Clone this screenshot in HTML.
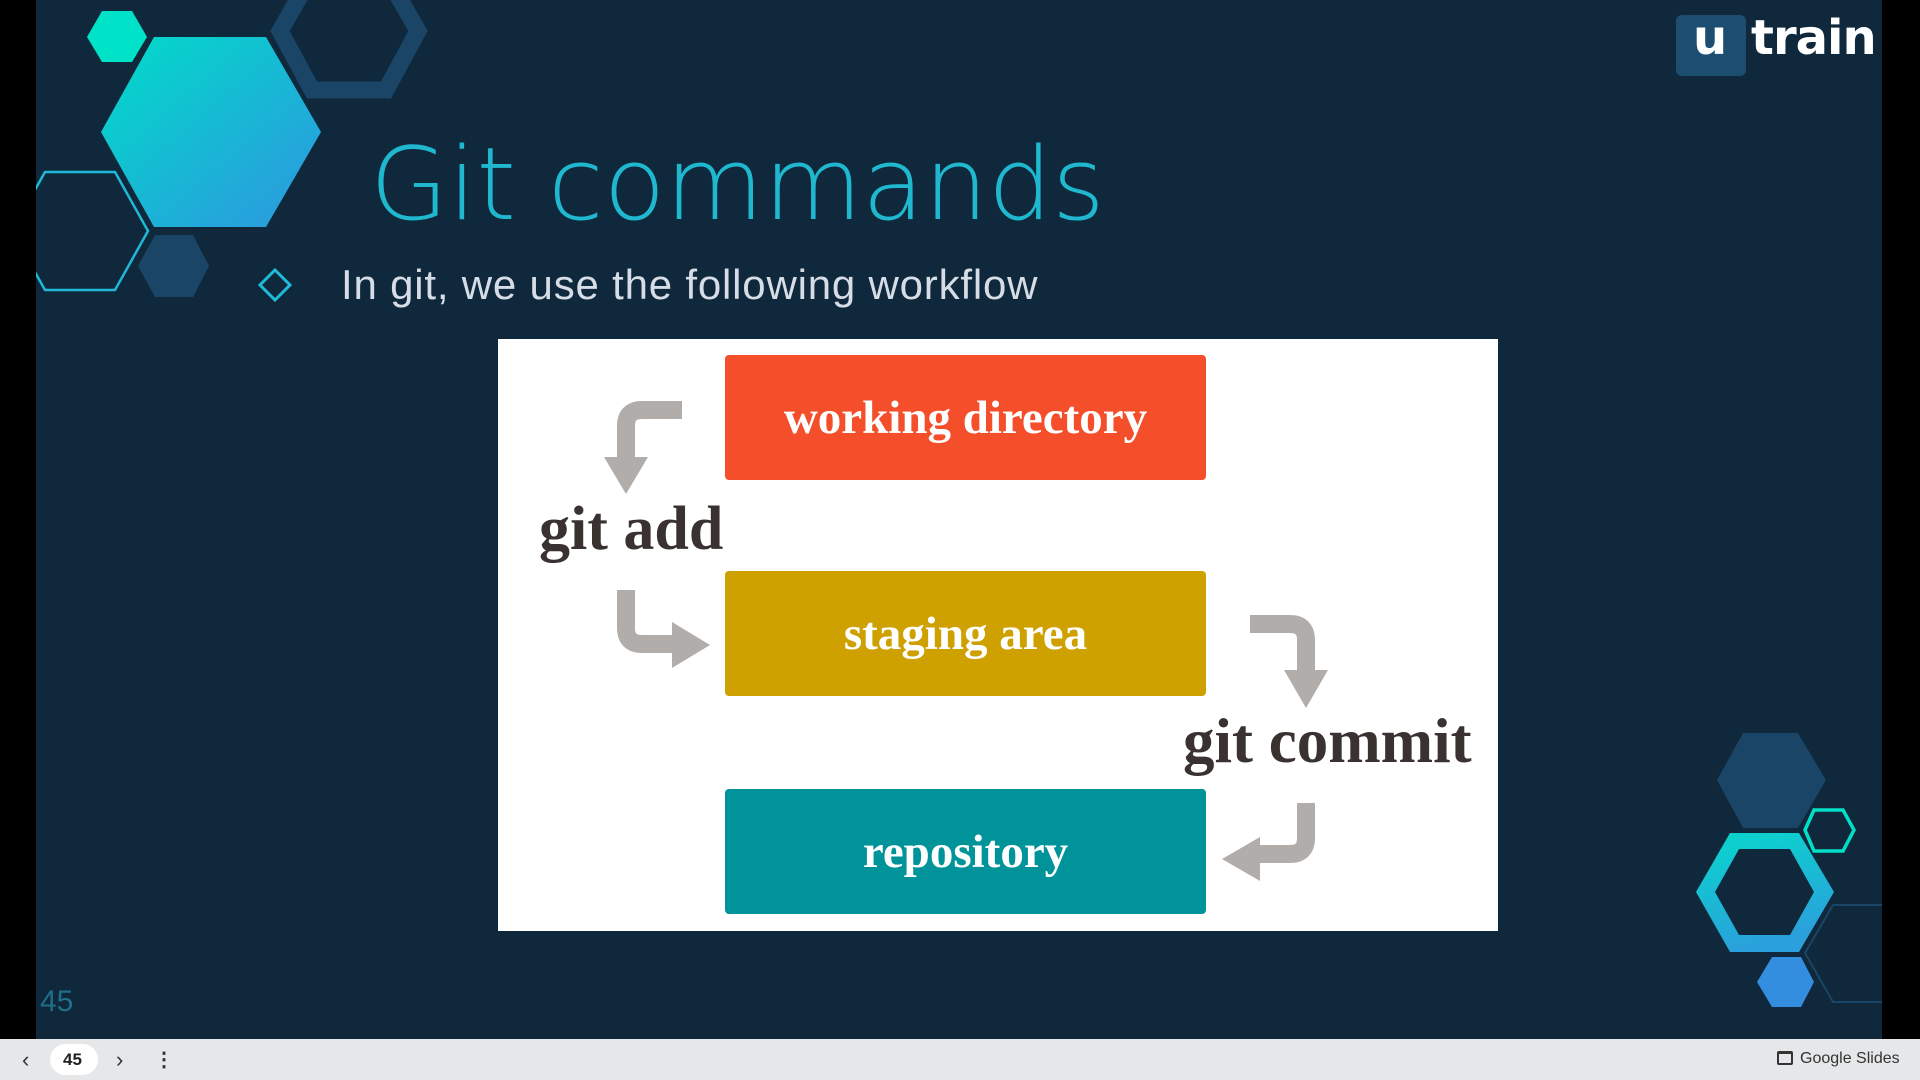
<!DOCTYPE html>
<html><head><meta charset="utf-8"><style>
html,body{margin:0;padding:0;width:1920px;height:1080px;overflow:hidden;background:#000}
.slide{position:absolute;left:36px;top:0;width:1846px;height:1039px;background:#0f283b}
.bar{position:absolute;left:0;top:1039px;width:1920px;height:41px;background:#e6e7e9;font-family:"Liberation Sans",sans-serif}
.t{position:absolute;white-space:nowrap}
.box{position:absolute;left:725px;width:481px;height:125px;border-radius:4px;color:#fff;font-family:"Liberation Serif",serif;font-weight:bold;font-size:47px;display:flex;align-items:center;justify-content:center}
</style></head><body>
<div class="slide"></div>
<svg width="1920" height="1080" style="position:absolute;left:0;top:0">
<defs>
<linearGradient id="g1" x1="0" y1="0" x2="1" y2="1"><stop offset="0" stop-color="#00dcc8"/><stop offset="1" stop-color="#2e96e0"/></linearGradient>
<linearGradient id="g2" x1="0" y1="0" x2="0.3" y2="1"><stop offset="0" stop-color="#08d8cc"/><stop offset="1" stop-color="#2aa0dc"/></linearGradient>
<clipPath id="cp"><rect x="36" y="0" width="1846" height="1039"/></clipPath>
</defs>
<g clip-path="url(#cp)">
<polygon points="102,11 132,11 147,37 132,62 102,62 87,37" fill="#00e2c8"/>
<polygon points="154,37 266,37 321,132 266,227 154,227 101,132" fill="url(#g1)"/>
<polygon points="312,-25 386,-25 418,31 386,90 312,90 280,31" fill="none" stroke="#1a4566" stroke-width="17"/>
<polygon points="45,172 115,172 148,231 115,290 45,290 12,231" fill="none" stroke="#1fb8d6" stroke-width="2.5"/>
<polygon points="155,235 193,235 209,266 193,297 155,297 138,266" fill="#1a4566"/>
<polygon points="1743,733 1798,733 1826,780 1798,828 1743,828 1717,780" fill="#1a4566"/>
<polygon points="1814,810 1843,810 1854,830 1843,851 1814,851 1805,830" fill="none" stroke="#00e0c8" stroke-width="3.5"/>
<path d="M1730,833 L1799,833 L1834,892 L1799,952 L1730,952 L1696,892 Z M1739,849 L1790,849 L1814,892 L1790,935 L1739,935 L1715,892 Z" fill="url(#g2)" fill-rule="evenodd"/>
<polygon points="1772,957 1801,957 1814,982 1801,1007 1772,1007 1757,982" fill="#348ee0"/>
<polygon points="1833,905 1900,905 1930,953 1900,1002 1833,1002 1805,953" fill="none" stroke="#1a4566" stroke-width="2"/>
</g>
<polygon points="275,270 290,285 275,300 260,285" fill="none" stroke="#1fbcd8" stroke-width="3"/>
<rect x="498" y="339" width="1000" height="592" fill="#fff"/>
<g fill="none" stroke="#b0adaa" stroke-width="18">
<path d="M682,410 L642,410 Q626,410 626,426 L626,460"/>
<path d="M626,590 L626,628 Q626,644 642,644 L675,644"/>
<path d="M1250,624 L1290,624 Q1306,624 1306,640 L1306,672"/>
<path d="M1306,803 L1306,838 Q1306,854 1290,854 L1258,854"/>
</g>
<g fill="#b0adaa">
<polygon points="604,457 648,457 626,494"/>
<polygon points="672,622 672,668 710,645"/>
<polygon points="1284,670 1328,670 1306,708"/>
<polygon points="1260,837 1260,881 1222,859"/>
</g>
</svg>
<div class="t" style="left:370px;top:125px;font-family:'DejaVu Sans','Liberation Sans',sans-serif;font-weight:200;font-size:101px;color:#1fb8cf">Git commands</div>
<div class="t" style="left:341px;top:261px;font-family:'Liberation Sans',sans-serif;font-size:42px;letter-spacing:0.8px;color:#d6dde6">In git, we use the following workflow</div>
<div class="box" style="top:355px;background:#f44e2a">working directory</div>
<div class="box" style="top:571px;background:#cfa100">staging area</div>
<div class="box" style="top:789px;background:#00939a">repository</div>
<div class="t" style="left:539px;top:494px;font-family:'Liberation Serif',serif;font-weight:bold;font-size:62px;color:#3a3230">git add</div>
<div class="t" style="left:1183px;top:705px;font-family:'Liberation Serif',serif;font-weight:bold;font-size:63px;color:#3a3230">git commit</div>
<div class="t" style="left:40px;top:985px;font-family:'Liberation Sans',sans-serif;font-size:30px;color:#1f6f88;font-weight:300">45</div>
<div style="position:absolute;left:1676px;top:15px;width:70px;height:61px;background:#1d4e72;border-radius:6px"></div>
<div class="t" style="left:1693px;top:10px;font-family:'DejaVu Sans',sans-serif;font-weight:bold;font-size:48px;color:#fff">u</div>
<div class="t" style="left:1751px;top:10px;font-family:'DejaVu Sans',sans-serif;font-weight:bold;font-size:48px;color:#fff;letter-spacing:-1px">train</div>
<div class="bar">
<div class="t" style="left:22px;top:8px;font-size:22px;color:#333">&#8249;</div>
<div style="position:absolute;left:50px;top:5px;width:48px;height:31px;border-radius:16px;background:#fff"></div>
<div class="t" style="left:63px;top:11px;font-size:17px;font-weight:bold;color:#222">45</div>
<div class="t" style="left:116px;top:8px;font-size:22px;color:#333">&#8250;</div>
<div class="t" style="left:154px;top:8px;font-size:20px;color:#333;font-weight:bold">&#8942;</div>
<div style="position:absolute;left:1777px;top:12px;width:16px;height:14px;border:2px solid #333;border-radius:2px;box-sizing:border-box;border-top-width:3px"></div>
<div class="t" style="left:1800px;top:11px;font-size:16px;color:#333">Google Slides</div>
</div>
</body></html>
